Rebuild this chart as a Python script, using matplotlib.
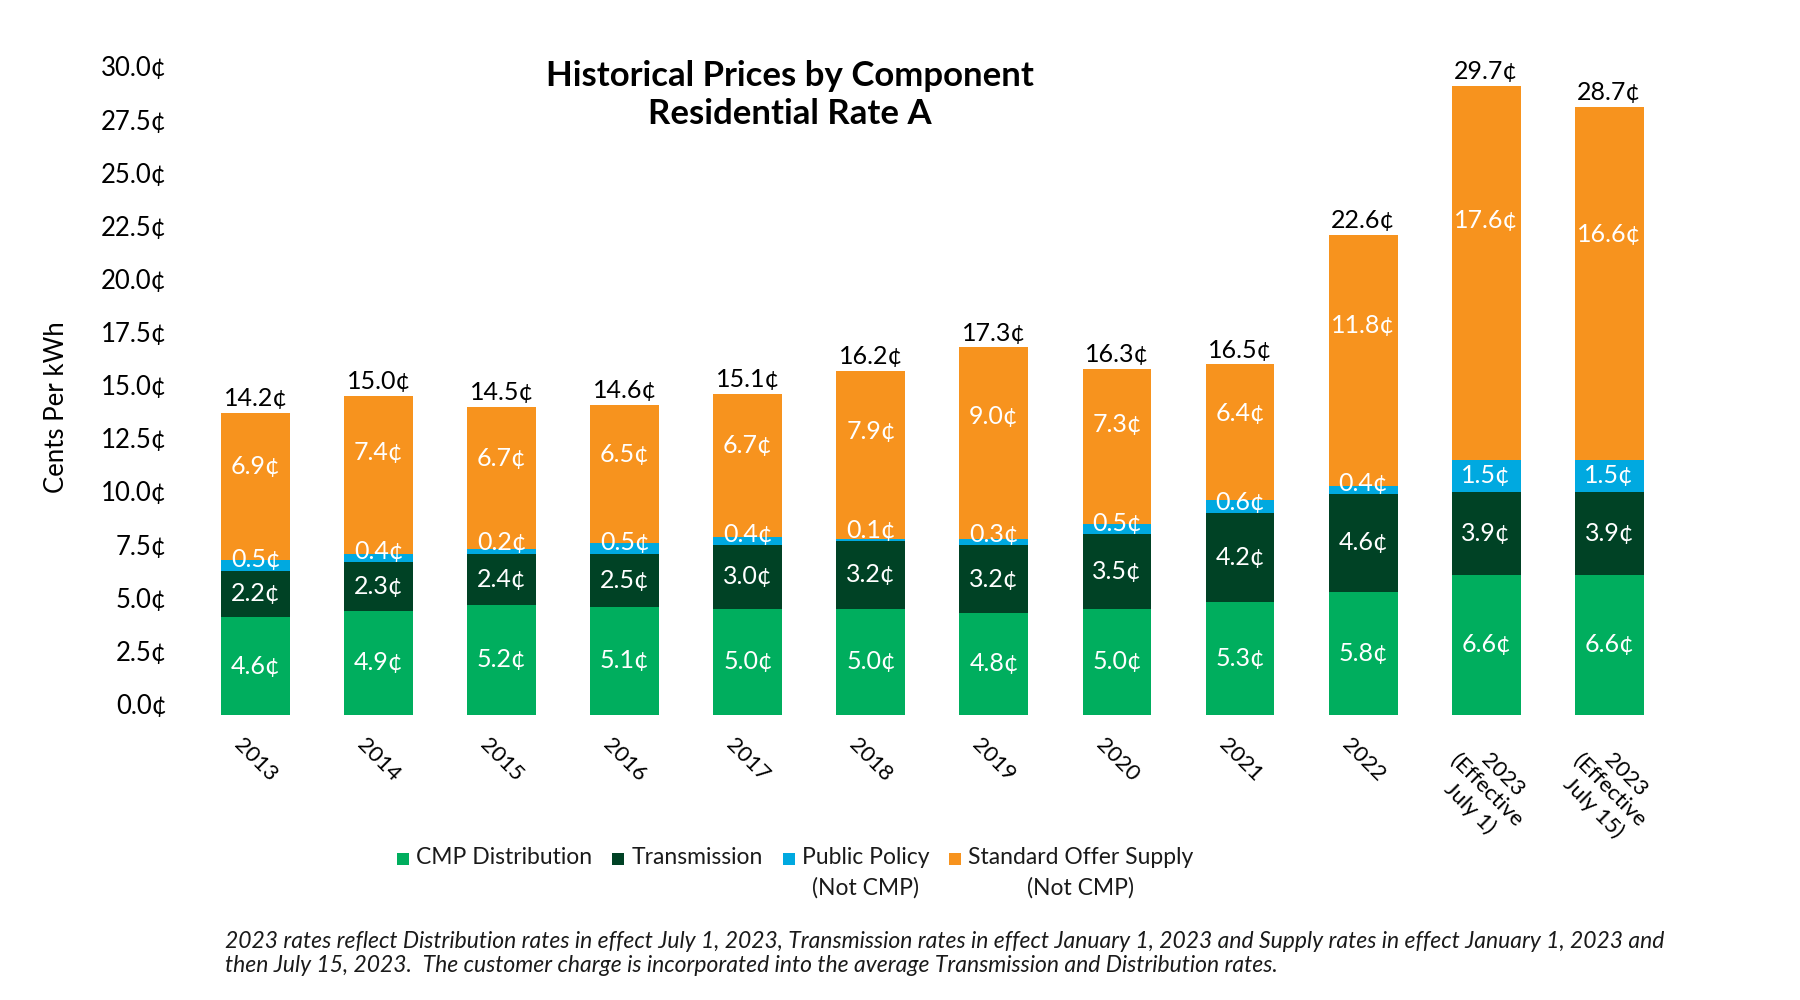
import matplotlib
matplotlib.use('Agg')
import matplotlib.pyplot as plt
import matplotlib.transforms as mtransforms
from matplotlib.patches import Rectangle
import numpy as np

plt.rcParams['font.family'] = ['Lato', 'DejaVu Sans']

# data (cents per kWh)
categories = ['2013', '2014', '2015', '2016', '2017', '2018', '2019', '2020',
              '2021', '2022', '2023\n(Effective\nJuly 1)', '2023\n(Effective\nJuly 15)']
distribution = [4.6, 4.9, 5.2, 5.1, 5.0, 5.0, 4.8, 5.0, 5.3, 5.8, 6.6, 6.6]
transmission = [2.2, 2.3, 2.4, 2.5, 3.0, 3.2, 3.2, 3.5, 4.2, 4.6, 3.9, 3.9]
public_policy = [0.5, 0.4, 0.2, 0.5, 0.4, 0.1, 0.3, 0.5, 0.6, 0.4, 1.5, 1.5]
standard_offer = [6.9, 7.4, 6.7, 6.5, 6.7, 7.9, 9.0, 7.3, 6.4, 11.8, 17.6, 16.6]
totals = [14.2, 15.0, 14.5, 14.6, 15.1, 16.2, 17.3, 16.3, 16.5, 22.6, 29.7, 28.7]
yticks = [0, 2.5, 5, 7.5, 10, 12.5, 15, 17.5, 20, 22.5, 25, 27.5, 30]

legend_names = ['CMP Distribution', 'Transmission', 'Public Policy\n(Not CMP)',
                'Standard Offer Supply\n(Not CMP)']
colors = ['#00AE5E', '#004225', '#00A9E0', '#F7931E']

fig = plt.figure(figsize=(18, 10), dpi=100)
ax = fig.add_axes([0.101, 0.285, 0.834, 0.6375])

x = np.arange(len(categories))
width = 0.56
series = [distribution, transmission, public_policy, standard_offer]
bottom = np.zeros(len(categories))
for vals, color, name in zip(series, colors, legend_names):
    vals = np.array(vals)
    ax.bar(x, vals, width, bottom=bottom, color=color, label=name)
    for i in range(len(x)):
        if color == colors[2]:
            # public policy labels sit on the thin blue band
            ypos = bottom[i] + max(vals[i] / 2, 0.5)
        elif color == colors[3]:
            ypos = bottom[i] + vals[i] * 0.64
        else:
            ypos = bottom[i] + vals[i] / 2
        ax.text(x[i], ypos, f'{vals[i]:.1f}¢', ha='center', va='center',
                color='white', fontsize=18)
    bottom = bottom + vals

for i in range(len(x)):
    ax.annotate(f'{totals[i]:.1f}¢', (x[i], bottom[i]), xytext=(0, 2),
                textcoords='offset points', ha='center', va='bottom',
                fontsize=18, color='black')

ax.set_xlim(-0.6, 11.6)
ax.set_ylim(0, 30)
ax.set_yticks(yticks)
ax.set_yticklabels([f'{v:.1f}¢' for v in yticks], fontsize=18.5)
ax.set_xticks(x)
ax.set_xticklabels(categories, rotation=-45, fontsize=16)
ax.tick_params(axis='both', length=0)
ax.tick_params(axis='y', pad=11)
ax.tick_params(axis='x', pad=14)
for s in ax.spines.values():
    s.set_visible(False)

# the tick labels in the original sit a little above their gridline value
shift = mtransforms.ScaledTranslation(0, 8 / 72, fig.dpi_scale_trans)
for lab in ax.get_yticklabels():
    lab.set_transform(lab.get_transform() + shift)

fig.text(790 / 1800, 1 - 95 / 1000, 'Historical Prices by Component\nResidential Rate A',
         ha='center', va='center', fontsize=25, fontweight='bold', linespacing=1.25)
fig.text(57 / 1800, 1 - 407 / 1000, 'Cents Per kWh', rotation=90,
         ha='center', va='center', fontsize=18.5)

# legend laid out by hand so the second lines center under the names
renderer = fig.canvas.get_renderer()
xpos = 397
for name, color in zip(legend_names, colors):
    fig.add_artist(Rectangle((xpos / 1800, 1 - 865 / 1000), 12 / 1800, 12 / 1000,
                             transform=fig.transFigure, color=color, lw=0))
    t = fig.text((xpos + 19) / 1800, 1 - 847 / 1000, name, ha='left', va='top',
                 fontsize=16.5, color='#1a1a1a', multialignment='center', linespacing=1.5)
    bb = t.get_window_extent(renderer)
    xpos = bb.x1 + 20

fig.text(225 / 1800, 1 - 931 / 1000,
         '2023 rates reflect Distribution rates in effect July 1, 2023, Transmission rates in effect '
         'January 1, 2023 and Supply rates in effect January 1, 2023 and\n'
         'then July 15, 2023.  The customer charge is incorporated into the average Transmission '
         'and Distribution rates.',
         ha='left', va='top', fontsize=16.5, style='italic', color='#1a1a1a', linespacing=1.2)

fig.savefig('out.png', dpi=100)
